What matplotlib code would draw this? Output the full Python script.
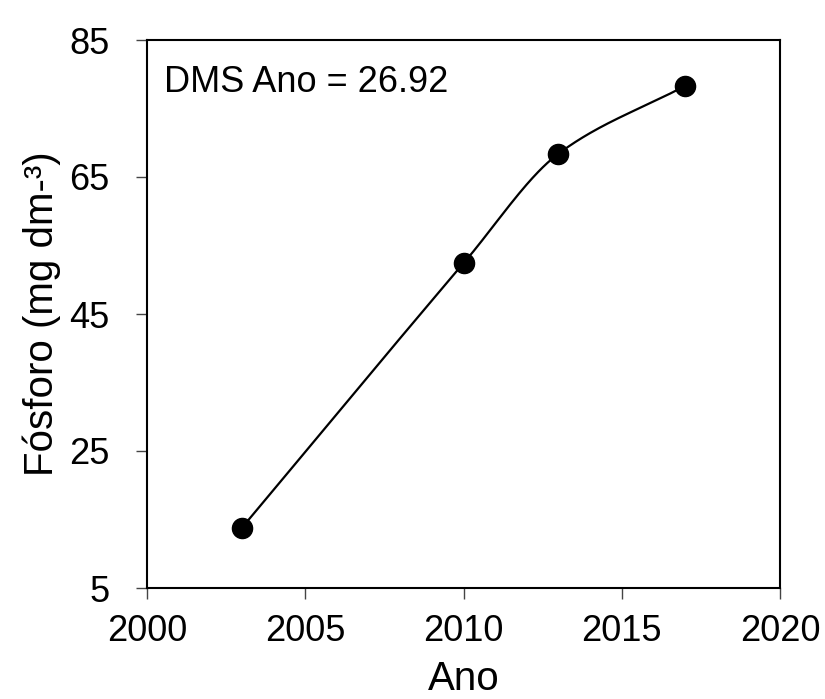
import numpy as np
import matplotlib
matplotlib.use("Agg")
from matplotlib import pyplot as plt

# data
anos = [2003, 2010, 2013, 2017]
fosforo = [13.8, 52.4, 68.4, 78.3]
dms_texto = "DMS Ano = 26.92"
x_ticks = [2000, 2005, 2010, 2015, 2020]
y_ticks = [5, 25, 45, 65, 85]


def smooth_curve(x, y, n=300):
    # monotone cubic through the points, only to draw the connecting line
    x = np.asarray(x, float)
    y = np.asarray(y, float)
    h = np.diff(x)
    delta = np.diff(y) / h
    k = len(x)
    d = np.zeros(k)
    for i in range(1, k - 1):
        if delta[i - 1] * delta[i] > 0:
            w1 = 2 * h[i] + h[i - 1]
            w2 = h[i] + 2 * h[i - 1]
            d[i] = (w1 + w2) / (w1 / delta[i - 1] + w2 / delta[i])
    # ends: use the slope of the end segment
    d[0] = delta[0]
    d[-1] = delta[-1]
    xs = np.linspace(x[0], x[-1], n)
    ys = np.empty_like(xs)
    for j, xv in enumerate(xs):
        i = min(np.searchsorted(x, xv, side="right") - 1, k - 2)
        t = (xv - x[i]) / h[i]
        h00 = 2 * t ** 3 - 3 * t ** 2 + 1
        h10 = t ** 3 - 2 * t ** 2 + t
        h01 = -2 * t ** 3 + 3 * t ** 2
        h11 = t ** 3 - t ** 2
        ys[j] = h00 * y[i] + h10 * h[i] * d[i] + h01 * y[i + 1] + h11 * h[i] * d[i + 1]
    return xs, ys


def main():
    plt.rcParams["font.family"] = ["Liberation Sans", "DejaVu Sans"]
    fig = plt.figure(figsize=(8.25, 6.99), dpi=100)
    ax = fig.add_axes([147 / 825, 1 - 588 / 699, 633 / 825, 548 / 699])

    xs, ys = smooth_curve(anos, fosforo)
    ax.plot(xs, ys, color="black", lw=1.6, zorder=2)
    ax.plot(anos, fosforo, "o", color="black", ms=14.5, zorder=3)

    ax.set_xlim(2000, 2020)
    ax.set_ylim(5, 85)
    ax.set_xticks(x_ticks)
    ax.set_yticks(y_ticks)
    ax.tick_params(axis="both", direction="out", length=8, width=1,
                   color="#444444", labelsize=26)
    ax.tick_params(axis="x", pad=11)
    ax.tick_params(axis="y", pad=19)
    for s in ax.spines.values():
        s.set_linewidth(1.5)

    ax.set_xlabel("Ano", fontsize=29, labelpad=8)
    ax.set_ylabel("Fósforo (mg dm-³)", fontsize=29, labelpad=6)
    ax.text(0.027, 0.955, dms_texto, transform=ax.transAxes, fontsize=26,
            ha="left", va="top")

    fig.savefig("out.png", dpi=100)


if __name__ == "__main__":
    main()
